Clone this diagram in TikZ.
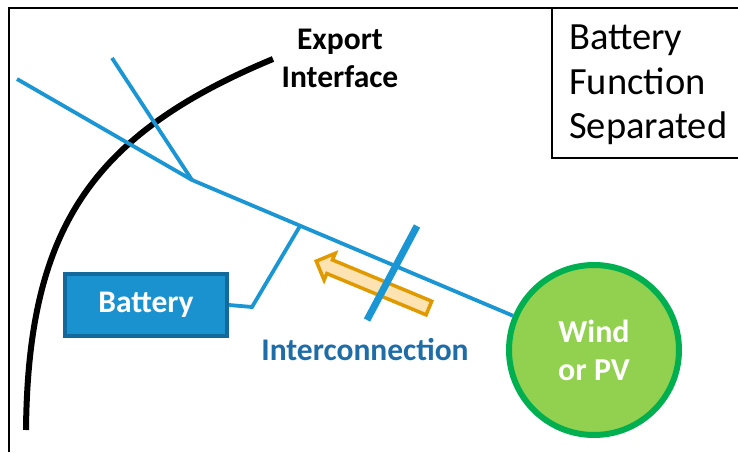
\documentclass[tikz,border=0pt]{standalone}
\usepackage{fontspec}
\setmainfont{Carlito}
\usepackage{tikz}
\usetikzlibrary{shapes.geometric, shapes.arrows, arrows.meta, positioning, calc}

\definecolor{wireblue}{HTML}{1A96D4}
\definecolor{battblue}{HTML}{1B92D0}
\definecolor{battedge}{HTML}{126A9C}
\definecolor{labelblue}{HTML}{1F6DA8}
\definecolor{srcfill}{HTML}{92D050}
\definecolor{srcedge}{HTML}{00B050}
\definecolor{flowedge}{HTML}{E09A00}
\definecolor{flowfill}{HTML}{FDE3B1}

\begin{document}
\begin{tikzpicture}[
    x=1pt, y=-1pt,
    wire/.style={draw=wireblue, line width=3.8pt},
    breaker/.style={draw=wireblue, line width=7pt},
    battbox/.style={rectangle, draw=battedge, fill=battblue, line width=4pt, minimum width=162pt, minimum height=62pt, text=white, font=\fontsize{31.5}{36}\selectfont\bfseries},
    source/.style={circle, draw=srcedge, fill=srcfill, line width=6pt, minimum size=170pt, align=center, text=white, font=\fontsize{32}{38}\selectfont\bfseries},
    flow/.style={single arrow, draw=flowedge, fill=flowfill, line width=3.5pt, minimum height=122pt, minimum width=29pt, inner xsep=0pt, inner ysep=5.5pt, text height=0pt, text depth=0pt, single arrow head extend=7pt},
    label/.style={align=center, inner sep=0pt, font=\fontsize{31.5}{38}\selectfont\bfseries}
]
\useasboundingbox (0,0) rectangle (738,452);

% Frame and legend box
\draw[line width=2.5pt] (9,452) -- (9,8) -- (738,8);
\draw[line width=2pt] (552,8) -- (552,158) -- (738,158);
\node[anchor=north west, align=left, inner sep=0pt, font=\fontsize{38.5}{44.5}\selectfont] (legend) at (569,25) {Battery\\Function\\Separated};

% Export interface
\draw[line width=6pt] (26,430) .. controls (28,230) and (90,135) .. (273,59);
\node[label, anchor=north] (export) at (340,29) {Export\\Interface};

% Nodes
\node[battbox] (battery) at (146,305) {Battery};
\node[source] (wind) at (594,350) {Wind\\or PV};
\node[label, text=labelblue, anchor=base] (intercon) at (365,360) {Interconnection};

% Feeder
\coordinate (gridend) at (17,79);
\coordinate (junction) at (192,180);
\coordinate (tapend) at (112,58);
\coordinate (batttap) at (300,226);
\coordinate (battknee) at (252,307);
\draw[wire] (gridend) -- (junction) -- (wind);
\draw[wire] (tapend) -- (junction);
\draw[wire] (battery.east) -- (battknee) -- (batttap);

% Breaker and power flow
\coordinate (brktop) at (417,226);
\coordinate (brkbot) at (367,320);
\node[flow, rotate=157.4] (powerflow) at (376,286) {};
\draw[breaker] (brktop) -- (brkbot);

\end{tikzpicture}
\end{document}
